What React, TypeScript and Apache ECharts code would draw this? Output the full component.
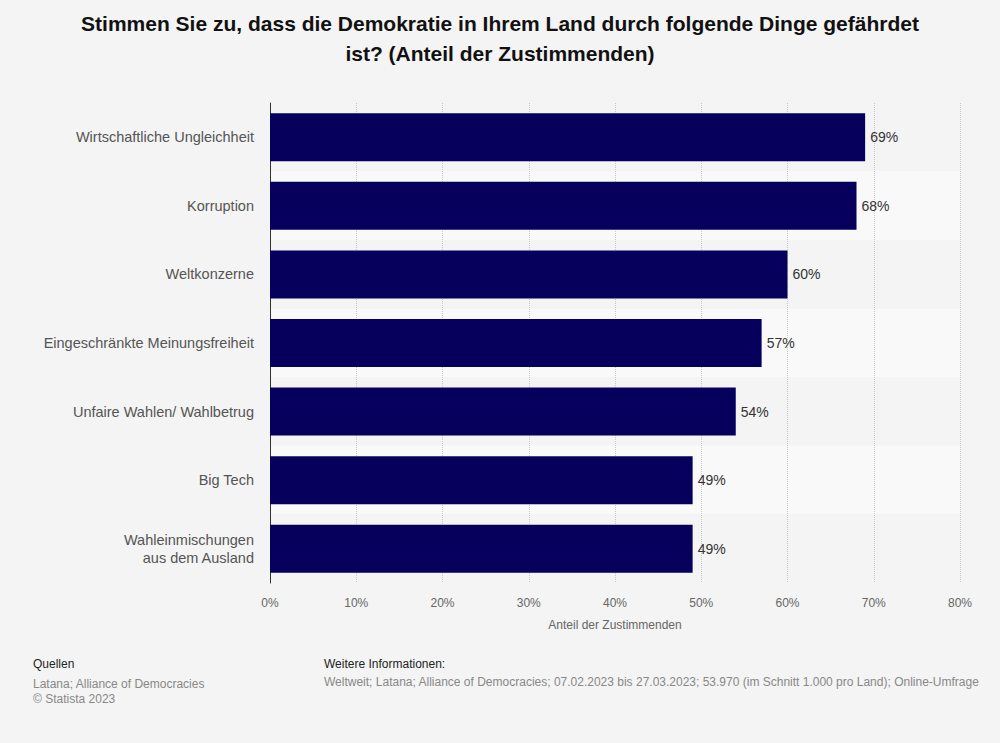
import React, { useEffect, useRef } from 'react';
import * as echarts from 'echarts';

const categories = [
  'Wirtschaftliche Ungleichheit',
  'Korruption',
  'Weltkonzerne',
  'Eingeschränkte Meinungsfreiheit',
  'Unfaire Wahlen/ Wahlbetrug',
  'Big Tech',
  'Wahleinmischungen\naus dem Ausland',
];
const values = [69, 68, 60, 57, 54, 49, 49];

export default function App() {
  const ref = useRef<HTMLDivElement>(null);

  useEffect(() => {
    const chart = echarts.init(ref.current, null, { renderer: 'svg' });
    const font = 'Arial, "Liberation Sans", sans-serif';
    chart.setOption({
      animation: false,
      backgroundColor: '#f4f4f4',
      textStyle: { fontFamily: font },
      grid: { left: 270, right: 40, top: 103, bottom: 160 },
      xAxis: {
        type: 'value',
        min: 0,
        max: 80,
        interval: 10,
        name: 'Anteil der Zustimmenden',
        nameLocation: 'middle',
        nameGap: 36,
        nameTextStyle: { color: '#666', fontSize: 12 },
        axisLabel: { formatter: '{value}%', color: '#666', fontSize: 12, margin: 14 },
        axisLine: { show: false },
        axisTick: { show: false },
        splitLine: { show: true, lineStyle: { type: 'dotted', color: '#c8c8c8' } },
      },
      yAxis: {
        type: 'category',
        inverse: true,
        data: categories,
        axisLabel: { color: '#555', fontSize: 14.5, margin: 16, lineHeight: 18 },
        axisLine: { show: true, lineStyle: { color: '#333' } },
        axisTick: { show: false },
        splitArea: { show: true, areaStyle: { color: ['#f4f4f4', '#f9f9f9'] } },
      },
      series: [
        {
          type: 'bar',
          data: values,
          barWidth: 48,
          itemStyle: { color: '#06005c' },
          label: { show: true, position: 'right', formatter: '{c}%', color: '#333', fontSize: 14, distance: 5 },
        },
      ],
      graphic: [
        {
          type: 'text', x: 500, y: 8,
          style: {
            text: 'Stimmen Sie zu, dass die Demokratie in Ihrem Land durch folgende Dinge gefährdet\nist? (Anteil der Zustimmenden)',
            fill: '#111', font: `bold 21px ${font}`, lineHeight: 30, align: 'center',
          },
        },
        { type: 'text', left: 33, top: 658, style: { text: 'Quellen', fill: '#222', font: `12px ${font}` } },
        { type: 'text', left: 33, top: 676, style: { text: 'Latana; Alliance of Democracies\n© Statista 2023', fill: '#888', font: `12px ${font}`, lineHeight: 15 } },
        { type: 'text', left: 324, top: 658, style: { text: 'Weitere Informationen:', fill: '#222', font: `12px ${font}` } },
        { type: 'text', left: 324, top: 676, style: { text: 'Weltweit; Latana; Alliance of Democracies; 07.02.2023 bis 27.03.2023; 53.970 (im Schnitt 1.000 pro Land); Online-Umfrage', fill: '#888', font: `12px ${font}` } },
      ],
    });
    return () => chart.dispose();
  }, []);

  return <div ref={ref} style={{ position: 'fixed', left: 0, top: 0, width: 1000, height: 743 }} />;
}
